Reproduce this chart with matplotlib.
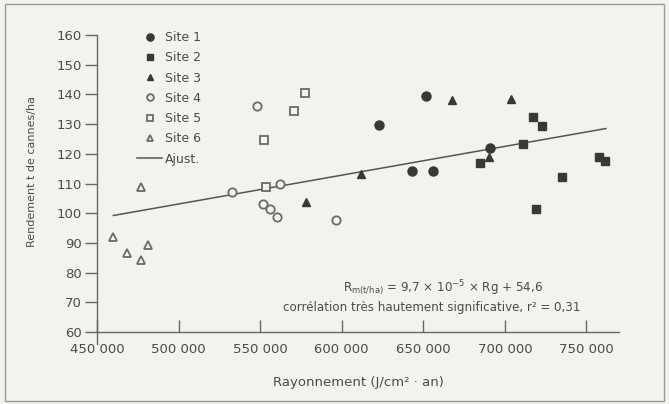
import matplotlib
matplotlib.use("Agg")
import matplotlib.pyplot as plt
from matplotlib.lines import Line2D
from matplotlib.patches import Rectangle

# ---- data ----
site1_x = [623000, 651600, 642800, 656000, 690800]
site1_y = [129.7, 139.5, 114.3, 114.1, 121.8]
site2_x = [684700, 711200, 717300, 723100, 735100, 757800, 761700, 719000]
site2_y = [116.8, 123.3, 132.5, 129.5, 112.1, 118.8, 117.7, 101.3]
site3_x = [578100, 611800, 667900, 703500, 690200]
site3_y = [103.7, 113.2, 138.1, 138.5, 119.0]
site4_x = [532500, 562100, 551500, 556000, 560500, 548200, 596400]
site4_y = [107.1, 109.8, 103.0, 101.3, 98.8, 136.2, 97.7]
site5_x = [553400, 552500, 570900, 577400]
site5_y = [108.7, 124.5, 134.4, 140.6]
site6_x = [459600, 468200, 476800, 481000, 477000]
site6_y = [91.9, 86.7, 84.2, 89.4, 108.7]

fit_slope = 9.7e-5
fit_intercept = 54.6
fit_x = [460000, 762000]

x_ticks = [450000, 500000, 550000, 600000, 650000, 700000, 750000]
x_tick_labels = ["450 000", "500 000", "550 000", "600 000", "650 000", "700 000", "750 000"]
y_ticks = [60, 70, 80, 90, 100, 110, 120, 130, 140, 150, 160]

labels = ["Site 1", "Site 2", "Site 3", "Site 4", "Site 5", "Site 6", "Ajust."]

# ---- style ----
bg = "#f3f3ee"
txt = "#4a4a4a"
dark = "#383838"
openc = "#6a6a6a"
plt.rcParams["font.family"] = ["DejaVu Sans"]

fig = plt.figure(figsize=(6.69, 4.04), dpi=100, facecolor=bg)
ax = fig.add_axes([97/669, 72/404, (619-97)/669, (332-35)/404])
ax.set_facecolor(bg)

ms = 6.5
ax.plot(site1_x, site1_y, "o", ms=ms, color=dark, mec=dark)
ax.plot(site2_x, site2_y, "s", ms=ms-0.8, color=dark, mec=dark)
ax.plot(site3_x, site3_y, "^", ms=ms-0.3, color=dark, mec=dark)
ax.plot(site4_x, site4_y, "o", ms=ms-0.5, mfc=bg, mec=openc, mew=1.3)
ax.plot(site5_x, site5_y, "s", ms=ms-0.8, mfc=bg, mec=openc, mew=1.3)
ax.plot(site6_x, site6_y, "^", ms=ms-0.3, mfc=bg, mec=openc, mew=1.3)
fy = [fit_slope * v + fit_intercept for v in fit_x]
ax.plot(fit_x, fy, "-", color="#555555", lw=1.1, zorder=1)

ax.set_xlim(450000, 770000)
ax.set_ylim(60, 160)
ax.set_xticks(x_ticks)
ax.set_xticklabels(x_tick_labels)
ax.set_yticks(y_ticks)

for s in ["top", "right"]:
    ax.spines[s].set_visible(False)
for s in ["left", "bottom"]:
    ax.spines[s].set_color("#666666")
    ax.spines[s].set_linewidth(1.0)
ax.spines["left"].set_bounds(56, 160)

ax.tick_params(axis="y", direction="out", length=8.5, width=1.0, color="#666666",
               labelsize=9.5, labelcolor=txt, pad=2.5)
ax.tick_params(axis="x", direction="in", length=8.5, width=1.0, color="#666666",
               labelsize=9.5, labelcolor=txt, pad=8)

ax.set_xlabel("Rayonnement (J/cm² · an)", fontsize=9.5, color=txt, labelpad=14)
fig.text(32/669, 1 - 172/404, "Rendement t de cannes/ha", rotation=90,
         fontsize=8, color=txt, ha="center", va="center")

# legend
handles = [
    Line2D([], [], ls="", marker="o", ms=ms, color=dark),
    Line2D([], [], ls="", marker="s", ms=ms-0.8, color=dark),
    Line2D([], [], ls="", marker="^", ms=ms-0.3, color=dark),
    Line2D([], [], ls="", marker="o", ms=ms-0.5, mfc=bg, mec=openc, mew=1.3),
    Line2D([], [], ls="", marker="s", ms=ms-0.8, mfc=bg, mec=openc, mew=1.3),
    Line2D([], [], ls="", marker="^", ms=ms-0.3, mfc=bg, mec=openc, mew=1.3),
    Line2D([], [], ls="-", color="#555555", lw=1.1),
]
leg = fig.legend(handles, labels, loc="upper left",
                 bbox_to_anchor=(137/669, 1 - 31/404), frameon=False,
                 fontsize=9, labelcolor=txt, handlelength=2.0, handletextpad=0.25,
                 labelspacing=0.58, markerscale=0.8, borderaxespad=0, borderpad=0)

# equation text
fig.text(443/669, 1 - 288/404,
         r"R$_{\mathregular{m(t/ha)}}$ = 9,7 × 10$^{\mathregular{-5}}$ × Rg + 54,6",
         fontsize=8.6, color=txt, ha="center", va="center")
fig.text(432/669, 1 - 308/404,
         "corrélation très hautement significative, r² = 0,31",
         fontsize=8.6, color=txt, ha="center", va="center")

# outer frame
fig.patches.append(Rectangle((5/669, 3/404), 659/669, 397/404, transform=fig.transFigure,
                             fill=False, edgecolor="#9a9a9a", lw=1.0))

fig.savefig("out.png", dpi=100, facecolor=bg)
